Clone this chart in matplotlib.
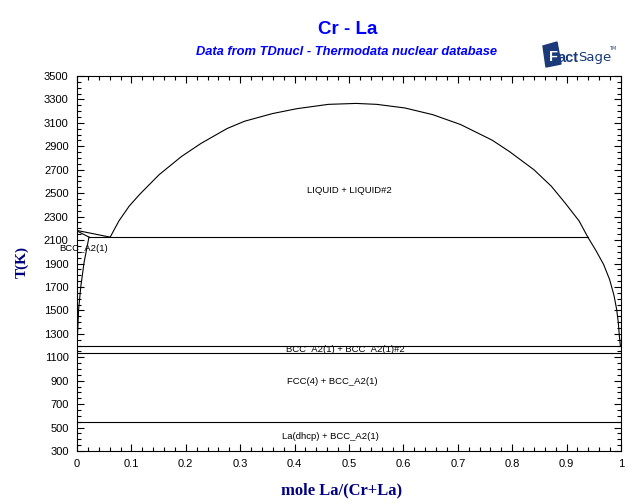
import matplotlib
matplotlib.use("Agg")
import matplotlib.pyplot as plt
from matplotlib.ticker import MultipleLocator
from matplotlib.patches import Polygon

# Miscibility gap (liquid + liquid#2) dome
dome_x = [0.061, 0.077, 0.096, 0.115, 0.151, 0.192, 0.228, 0.276, 0.308, 0.359, 0.404, 0.462,
          0.513, 0.551, 0.603, 0.654, 0.705, 0.763, 0.795, 0.840, 0.872, 0.897, 0.923, 0.939]
dome_T = [2125, 2263, 2390, 2489, 2658, 2813, 2925, 3052, 3114, 3179, 3221, 3258,
          3266, 3258, 3227, 3170, 3086, 2953, 2855, 2700, 2559, 2418, 2263, 2125]
# La-rich liquidus below the monotectic
laliq_x = [0.939, 0.954, 0.968, 0.979, 0.987, 0.992, 0.995, 0.997, 0.999]
laliq_T = [2125, 2010, 1892, 1764, 1630, 1509, 1398, 1279, 1193]
# Cr-rich liquidus and solidus
crliq_x = [0.0, 0.061]
crliq_T = [2182, 2125]
crsol_x = [0.0, 0.022]
crsol_T = [2178, 2125]
# BCC (Cr) solvus
solvus_x = [0.022, 0.013, 0.007, 0.003, 0.001, 0.0]
solvus_T = [2125, 1909, 1704, 1509, 1300, 1193]
# Invariant lines: (T, x_start, x_end)
inv_T = [2125, 1193, 1134, 550]
inv_x0 = [0.022, 0.0, 0.0, 0.0]
inv_x1 = [0.939, 1.0, 1.0, 1.0]

labels = ["LIQUID + LIQUID#2", "BCC_A2(1)", "BCC_A2(1) + BCC_A2(1)#2", "FCC(4) + BCC_A2(1)", "La(dhcp) + BCC_A2(1)"]
label_x = [0.5, 0.012, 0.493, 0.47, 0.465]
label_T = [2520, 2025, 1165, 890, 420]

fig = plt.figure(figsize=(6.4, 5.04), dpi=100)
ax = fig.add_axes([77/640, 1 - 451/504, 544/640, 375/504])

lw = 0.8
ax.plot(dome_x, dome_T, color="black", lw=lw)
ax.plot(laliq_x, laliq_T, color="black", lw=lw)
ax.plot(crliq_x, crliq_T, color="black", lw=lw)
ax.plot(crsol_x, crsol_T, color="black", lw=lw)
ax.plot(solvus_x, solvus_T, color="black", lw=lw)
for T, a, b in zip(inv_T, inv_x0, inv_x1):
    ax.plot([a, b], [T, T], color="black", lw=lw)

for s, x, T in zip(labels, label_x, label_T):
    ax.text(x, T, s, ha="center", va="center", fontsize=6.8, family="Liberation Sans")

ax.set_xlim(0, 1)
ax.set_ylim(300, 3500)
ax.xaxis.set_minor_locator(MultipleLocator(0.02))
ax.yaxis.set_minor_locator(MultipleLocator(50))
ax.set_yticks(list(range(300, 3501, 200)))
ax.set_xticks([i / 10 for i in range(11)])
ax.set_xticklabels(["0"] + [f"{i/10:.1f}" for i in range(1, 10)] + ["1"])
ax.tick_params(which="both", direction="in", top=True, right=True, labelsize=8, width=0.8)
ax.tick_params(which="major", length=5, pad=6)
ax.tick_params(which="minor", length=3)
for lab in ax.get_xticklabels() + ax.get_yticklabels():
    lab.set_family("Liberation Sans")
for sp in ax.spines.values():
    sp.set_linewidth(0.8)

fig.text(348/640, 1 - 30/504, "Cr - La", ha="center", va="center", fontsize=13.5,
         fontweight="bold", color="#0000ff", family="Liberation Sans")
fig.text(346/640, 1 - 52/504, "Data from TDnucl - Thermodata nuclear database", ha="center",
         va="center", fontsize=9.3, fontweight="bold", style="italic", color="#0000ff",
         family="Liberation Sans")
fig.text(342/640, 1 - 490/504, "mole La/(Cr+La)", ha="center", va="center", fontsize=12,
         fontweight="bold", color="#000080", family="Liberation Serif")
fig.text(22/640, 1 - 262/504, "T(K)", ha="center", va="center", fontsize=11, rotation=90,
         fontweight="bold", color="#000080", family="Liberation Serif")

# FactSage logo approximation
navy = "#1a3a7a"
logo = Polygon([[543/640, 1 - 46/504], [557/640, 1 - 42/504], [561/640, 1 - 64/504], [546/640, 1 - 67/504]],
               closed=True, transform=fig.transFigure, color=navy)
fig.patches.append(logo)
fig.text(549/640, 1 - 57/504, "F", ha="left", va="center", fontsize=10.5, fontweight="bold",
         color="white", family="Liberation Sans")
fig.text(558/640, 1 - 58/504, "act", ha="left", va="center", fontsize=10.5, fontweight="bold",
         color=navy, family="Liberation Sans")
fig.text(578/640, 1 - 57/504, "Sage", ha="left", va="center", fontsize=9.5,
         color=navy, family="Liberation Sans Narrow")
fig.text(609/640, 1 - 49/504, "TM", ha="left", va="center", fontsize=3.5, color=navy)

fig.savefig("out.png", dpi=100)
